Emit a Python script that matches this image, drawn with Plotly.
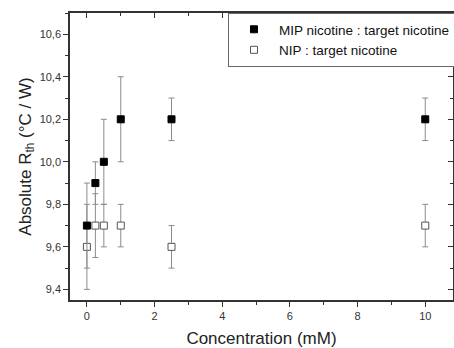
import plotly.graph_objects as go

conc = [0, 0.25, 0.5, 1, 2.5, 10]
mip = [9.7, 9.9, 10.0, 10.2, 10.2, 10.2]
mip_err = [0.2, 0.1, 0.2, 0.2, 0.1, 0.1]
nip = [9.6, 9.7, 9.7, 9.7, 9.6, 9.7]
nip_err = [0.2, 0.15, 0.1, 0.1, 0.1, 0.1]
x_ticks = [0, 2, 4, 6, 8, 10]
y_ticks = [9.4, 9.6, 9.8, 10.0, 10.2, 10.4, 10.6]

err_color = "#8c8c8c"
fig = go.Figure()
fig.add_trace(go.Scatter(
    x=conc, y=nip, mode="markers", name="NIP : target nicotine",
    marker=dict(symbol="square", size=7, color="white", line=dict(color="#555", width=1)),
    error_y=dict(type="data", array=nip_err, color=err_color, thickness=1, width=3),
    showlegend=False))
fig.add_trace(go.Scatter(
    x=conc, y=mip, mode="markers", name="MIP nicotine : target nicotine",
    marker=dict(symbol="square", size=7, color="black", line=dict(color="black", width=1)),
    error_y=dict(type="data", array=mip_err, color=err_color, thickness=1, width=3)))
fig.add_trace(go.Scatter(
    x=[None], y=[None], mode="markers", name="NIP : target nicotine",
    marker=dict(symbol="square", size=7, color="white", line=dict(color="#555", width=1))))
# carrier for the mirrored (inside-tick) top and right axes
fig.add_trace(go.Scatter(x=[None], y=[None], xaxis="x2", yaxis="y2",
                         mode="markers", showlegend=False, hoverinfo="skip"))

tfont = dict(family="Liberation Sans, Arial", size=11, color="#333")
axis_common = dict(showline=True, linecolor="#333", linewidth=1.5,
                   ticklen=5, tickwidth=1, tickcolor="#333", showgrid=False, zeroline=False,
                   tickfont=tfont)
fig.update_layout(
    width=454, height=348,
    margin=dict(l=70, r=1, t=13, b=48, autoexpand=False),
    paper_bgcolor="white", plot_bgcolor="white",
    separators=",.",
    font=dict(family="Liberation Sans, Arial", color="#222"),
    xaxis=dict(range=[-0.5, 10.82], tickvals=x_ticks, ticks="outside",
               minor=dict(ticks="outside", dtick=1, ticklen=3, tickcolor="#333"),
               title=dict(text="Concentration (mM)", font=dict(size=17), standoff=11),
               **axis_common),
    yaxis=dict(range=[9.35, 10.7], tickvals=y_ticks, tickformat=".1f", ticks="outside",
               minor=dict(ticks="outside", dtick=0.1, ticklen=3, tickcolor="#333"),
               title=dict(text="Absolute R<sub>th</sub> (°C / W)", font=dict(size=17), standoff=4),
               **axis_common),
    xaxis2=dict(overlaying="x", side="top", matches="x", anchor="y2", tickvals=x_ticks,
                ticks="inside", showticklabels=False,
                minor=dict(ticks="inside", dtick=1, ticklen=3, tickcolor="#333"),
                **axis_common),
    yaxis2=dict(overlaying="y", side="right", matches="y", anchor="x2", tickvals=y_ticks,
                ticks="inside", showticklabels=False,
                minor=dict(ticks="inside", dtick=0.1, ticklen=3, tickcolor="#333"),
                **axis_common),
    legend=dict(x=0.4125, y=1, xanchor="left", yanchor="top",
                bgcolor="white", bordercolor="#666", borderwidth=1, itemwidth=40,
                font=dict(size=13.5, color="#111"), tracegroupgap=0),
)
fig.write_html("out.html")
